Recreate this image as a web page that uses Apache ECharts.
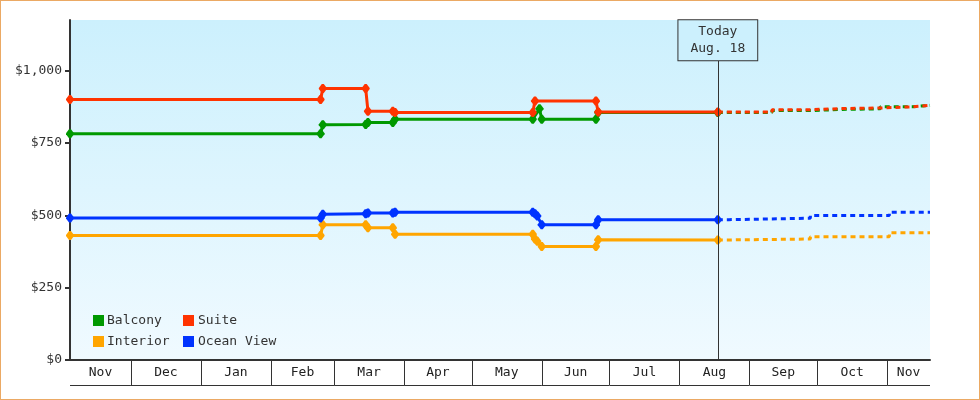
<!DOCTYPE html>
<html>
<head>
    <meta charset="utf-8">
    <title>Cabin prices</title>
    <script src="https://cdn.jsdelivr.net/npm/echarts@6/dist/echarts.min.js"></script>
    <style>
        body { margin: 0; }
        #wrap { position: relative; width: 980px; height: 400px; }
        #main { width: 980px; height: 400px; }
        #frame { position: absolute; left: 0; top: 0; width: 980px; height: 400px;
                 box-sizing: border-box; border: 1px solid #eba964; pointer-events: none; }
    </style>
</head>
<body>
<div id="wrap">
    <div id="main"></div>
    <div id="frame"></div>
</div>
<script type="text/javascript">
    // axis range and "today"
    var xMin = '2017-11-04';
    var xMax = '2018-11-20';
    var today = '2018-08-18';
    var todayLabel = 'Today\nAug. 18';
    var todayTop = 1036; // where the today line stops, under its label box

    // month band under the plot
    var monthLabels = ['Nov', 'Dec', 'Jan', 'Feb', 'Mar', 'Apr', 'May', 'Jun', 'Jul', 'Aug', 'Sep', 'Oct', 'Nov'];
    var monthStarts = ['2017-11-01', '2017-12-01', '2018-01-01', '2018-02-01', '2018-03-01', '2018-04-01',
        '2018-05-01', '2018-06-01', '2018-07-01', '2018-08-01', '2018-09-01', '2018-10-01', '2018-11-01', '2018-12-01'];

    var yTicks = [0, 250, 500, 750, 1000];

    // price history
    var balcony = [
        ['2017-11-04', 782], ['2018-02-23', 782], ['2018-02-24', 813], ['2018-03-15', 814], ['2018-03-16', 821],
        ['2018-03-27', 821], ['2018-03-28', 832], ['2018-05-28', 832], ['2018-05-31', 868], ['2018-06-01', 832],
        ['2018-06-25', 832], ['2018-06-26', 855], ['2018-08-18', 855]
    ];
    var suite = [
        ['2017-11-04', 900], ['2018-02-23', 900], ['2018-02-24', 938], ['2018-03-15', 938], ['2018-03-16', 860],
        ['2018-03-27', 860], ['2018-03-28', 855], ['2018-05-28', 855], ['2018-05-29', 895], ['2018-06-25', 895],
        ['2018-06-26', 857], ['2018-08-18', 857]
    ];
    var interior = [
        ['2017-11-04', 430], ['2018-02-23', 430], ['2018-02-24', 467], ['2018-03-15', 467], ['2018-03-16', 457],
        ['2018-03-27', 457], ['2018-03-28', 435], ['2018-05-28', 435], ['2018-05-29', 418], ['2018-05-30', 410],
        ['2018-06-01', 392], ['2018-06-25', 392], ['2018-06-26', 416], ['2018-08-18', 415]
    ];
    var oceanView = [
        ['2017-11-04', 491], ['2018-02-23', 491], ['2018-02-24', 504], ['2018-03-15', 505], ['2018-03-16', 508],
        ['2018-03-27', 508], ['2018-03-28', 511], ['2018-05-28', 511], ['2018-05-29', 505], ['2018-05-30', 498],
        ['2018-06-01', 467], ['2018-06-25', 467], ['2018-06-26', 485], ['2018-08-18', 485]
    ];

    // forecast
    var balconyFc = [
        ['2018-08-18', 855], ['2018-09-11', 862], ['2018-09-28', 866], ['2018-10-12', 868],
        ['2018-10-29', 875], ['2018-11-12', 880], ['2018-11-20', 880]
    ];
    var suiteFc = [
        ['2018-08-18', 857], ['2018-09-11', 865], ['2018-09-28', 869], ['2018-10-12', 871],
        ['2018-10-29', 875], ['2018-11-12', 880], ['2018-11-20', 880]
    ];
    var interiorFc = [
        ['2018-08-18', 415], ['2018-08-23', 418], ['2018-09-28', 426], ['2018-11-02', 440], ['2018-11-20', 441]
    ];
    var oceanViewFc = [
        ['2018-08-18', 485], ['2018-08-23', 490], ['2018-09-28', 499], ['2018-11-02', 511], ['2018-11-20', 512]
    ];

    var colors = {Balcony: '#009900', Suite: '#ff3300', Interior: '#ffa500', 'Ocean View': '#0033ff'};
    var mono = '"DejaVu Sans Mono", monospace';
    // blunt diamond, like the original's point marks
    var pointMark = 'path://M3,0 L5,0 L8,4 L8,5 L5,9 L3,9 L0,5 L0,4 Z';

    function history(name, data) {
        return {
            name: name, type: 'line', data: data,
            color: colors[name],
            lineStyle: {width: 3},
            symbol: pointMark, symbolSize: [8, 9], symbolKeepAspect: false,
            showSymbol: true, showAllSymbol: true,
            silent: true
        };
    }
    function forecast(name, data) {
        return {
            name: name, type: 'line', data: data, step: 'end',
            color: colors[name],
            lineStyle: {width: 3, type: [5, 4]},
            showSymbol: false,
            silent: true
        };
    }

    var monthCells = monthLabels.map(function (m, i) {
        return [monthStarts[i], monthStarts[i + 1]];
    });

    var myChart = echarts.init(document.getElementById('main'));
    var option = {
        animation: false,
        grid: {
            left: 70, right: 50, top: 20, bottom: 40,
            show: true, borderWidth: 0,
            backgroundColor: {
                type: 'linear', x: 0, y: 0, x2: 0, y2: 1,
                colorStops: [{offset: 0, color: '#ccf0fd'}, {offset: 1, color: '#f0faff'}]
            }
        },
        legend: [{
            data: [{name: 'Balcony', itemStyle: {color: colors.Balcony}},
                   {name: 'Interior', itemStyle: {color: colors.Interior}}],
            orient: 'vertical', left: 93, top: 314, padding: 0, itemGap: 8,
            icon: 'rect', itemWidth: 11, itemHeight: 11, selectedMode: false,
            textStyle: {color: '#333', fontFamily: mono, fontSize: 13, padding: [0, 0, 0, -2]}
        }, {
            data: [{name: 'Suite', itemStyle: {color: colors.Suite}},
                   {name: 'Ocean View', itemStyle: {color: colors['Ocean View']}}],
            orient: 'vertical', left: 183, top: 314, padding: 0, itemGap: 8,
            icon: 'rect', itemWidth: 11, itemHeight: 11, selectedMode: false,
            textStyle: {color: '#333', fontFamily: mono, fontSize: 13, padding: [0, 0, 0, -1]}
        }],
        xAxis: {
            type: 'time',
            min: xMin, max: xMax,
            axisLine: {show: true, lineStyle: {color: '#333', width: 2}},
            axisTick: {show: false},
            axisLabel: {show: false},
            splitLine: {show: false}
        },
        yAxis: {
            type: 'value',
            min: 0, max: 1175, interval: 250,
            axisLine: {show: true, lineStyle: {color: '#333', width: 2}},
            axisTick: {show: true, length: 5, lineStyle: {color: '#333', width: 2}},
            axisLabel: {
                color: '#333', fontFamily: mono, fontSize: 13, margin: 8,
                showMaxLabel: false,
                formatter: function (v) {
                    return yTicks.indexOf(v) < 0 ? '' : '$' + v.toLocaleString('en-US');
                }
            },
            splitLine: {show: false}
        },
        series: [
            // month band under the x axis
            {
                type: 'custom', name: 'months', silent: true, clip: false,
                data: monthCells,
                encode: {x: [0, 1]},
                renderItem: function (params, api) {
                    var cs = params.coordSys;
                    var left = cs.x, right = cs.x + cs.width, yb = cs.y + cs.height;
                    var x0 = api.coord([api.value(0), 0])[0];
                    var x1 = api.coord([api.value(1), 0])[0];
                    var a = Math.max(x0, left), b = Math.min(x1, right);
                    if (b <= a) return;
                    var kids = [{
                        type: 'text',
                        style: {
                            text: monthLabels[params.dataIndex], x: (a + b) / 2, y: yb + 13,
                            align: 'center', verticalAlign: 'middle',
                            fill: '#222', font: '13px ' + mono
                        }
                    }, {
                        type: 'line',
                        shape: {x1: a, y1: yb + 25.5, x2: b, y2: yb + 25.5},
                        style: {stroke: '#333', lineWidth: 1}
                    }];
                    if (x1 < right) {
                        kids.push({
                            type: 'line',
                            shape: {x1: Math.round(x1) + 0.5, y1: yb, x2: Math.round(x1) + 0.5, y2: yb + 25},
                            style: {stroke: '#333', lineWidth: 1}
                        });
                    }
                    return {type: 'group', children: kids};
                }
            },
            forecast('Balcony', balconyFc),
            forecast('Interior', interiorFc),
            forecast('Ocean View', oceanViewFc),
            forecast('Suite', suiteFc),
            Object.assign(history('Balcony', balcony), {
                markLine: {
                    silent: true, symbol: ['none', 'none'],
                    lineStyle: {color: '#333', width: 1, type: 'solid'},
                    label: {
                        show: true, position: 'end', distance: 0,
                        formatter: todayLabel,
                        color: '#333', fontFamily: mono, fontSize: 13, lineHeight: 17,
                        backgroundColor: '#ccf0fd', borderColor: '#333', borderWidth: 1,
                        padding: [3, 12, 3, 12]
                    },
                    data: [[{coord: [today, 0]}, {coord: [today, todayTop]}]]
                }
            }),
            history('Interior', interior),
            history('Ocean View', oceanView),
            history('Suite', suite)
        ]
    };
    myChart.setOption(option);
</script>
</body>
</html>
